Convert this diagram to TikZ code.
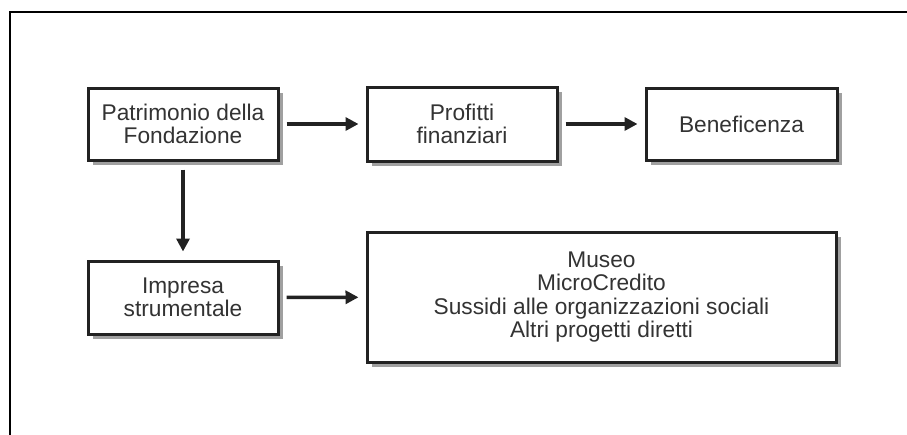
\documentclass[tikz,border=0pt]{standalone}
\usepackage{fontspec}
\setmainfont{Liberation Sans}
\usetikzlibrary{arrows.meta,shadows}
\definecolor{txt}{HTML}{333333}
\definecolor{edge}{HTML}{222222}
\definecolor{shade}{HTML}{A0A0A0}
\begin{document}
\begin{tikzpicture}[x=1pt,y=-1pt,
  boxnode/.style={draw=edge, line width=3pt, fill=white, text=txt, align=center,
    font=\fontsize{22.7}{23.5}\selectfont, inner sep=0pt,
    drop shadow={shadow xshift=5pt, shadow yshift=-5pt, fill=shade, opacity=1}},
  flowarrow/.style={draw=edge, line width=3.4pt, -{Triangle[length=13pt,width=13pt]},
    shorten <=7pt, shorten >=7pt}]
\useasboundingbox (0,0) rectangle (907,434);
\draw[line width=2.2pt, black] (10,440) -- (10,12) -- (912,12);
\node[boxnode, minimum width=190pt, minimum height=72pt] (pat) at (183,124) {Patrimonio della\\Fondazione};
\node[boxnode, minimum width=190pt, minimum height=74pt] (pro) at (462,124) {Profitti\\finanziari};
\node[boxnode, minimum width=191pt, minimum height=72pt] (ben) at (741.5,124) {Beneficenza};
\node[boxnode, minimum width=190pt, minimum height=73pt] (imp) at (183,297.5) {Impresa\\strumentale};
\node[boxnode, minimum width=469pt, minimum height=130pt] (big) at (601.5,297) {Museo\\MicroCredito\\Sussidi alle organizzazioni sociali\\Altri progetti diretti};
\draw[flowarrow] (pat) -- (pro);
\draw[flowarrow] (pro) -- (ben);
\draw[flowarrow, shorten <=8pt, shorten >=8pt] (pat) -- (imp);
\draw[flowarrow] (imp) -- (big);
\end{tikzpicture}
\end{document}
